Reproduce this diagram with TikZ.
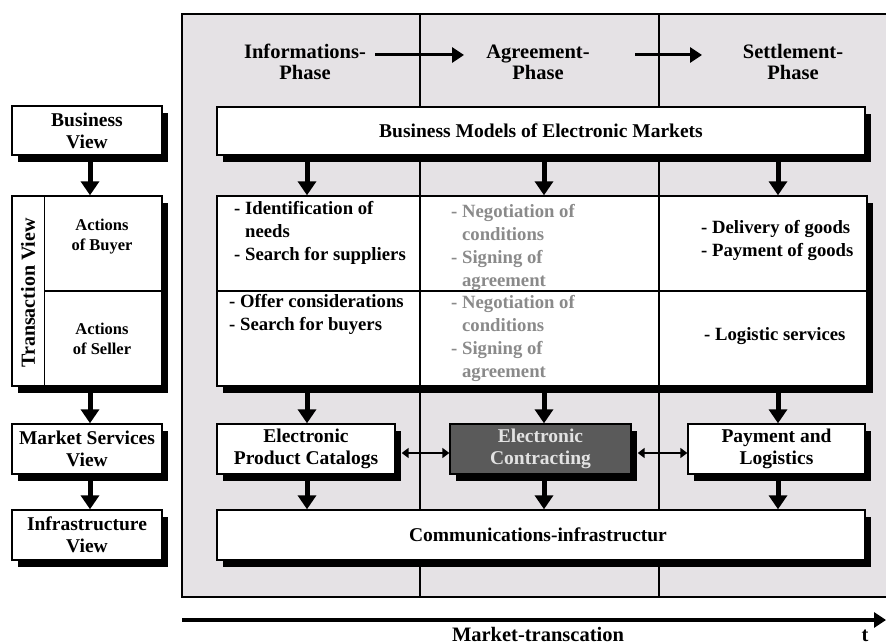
\documentclass[tikz,border=0pt]{standalone}
\usepackage{fontspec}
\setmainfont{Liberation Serif}
\usetikzlibrary{arrows.meta,shadows}

\definecolor{panelgray}{HTML}{E5E2E5}
\definecolor{softgray}{HTML}{8A8A8A}
\definecolor{darkbox}{HTML}{5A5A5A}
\definecolor{lighttext}{HTML}{E2E2E2}

\newcommand{\celllines}[1]{\begin{tabular}{@{}l@{}}#1\end{tabular}}

\begin{document}
\begin{tikzpicture}[x=1pt,y=-1pt,
  lbl/.style={font=\fontsize{19.5}{22}\selectfont\bfseries, align=center, inner sep=0pt},
  phase/.style={font=\fontsize{20.5}{21}\selectfont\bfseries, align=center, inner sep=0pt},
  small/.style={font=\fontsize{16.5}{20}\selectfont\bfseries, align=center, inner sep=0pt},
  celltext/.style={font=\fontsize{18.7}{23}\selectfont\bfseries, inner sep=0pt, anchor=west},
  boxbase/.style={draw=black, line width=1.4pt, inner sep=0pt, anchor=center,
    drop shadow={shadow xshift=6pt, shadow yshift=-7pt, opacity=1, fill=black}},
  whitebox/.style={boxbase, fill=white},
  bigarrow/.style={line width=5pt, -{Triangle[length=14pt,width=18pt]}},
  phasearrow/.style={line width=3pt, -{Triangle[length=12pt,width=15pt]}},
  linkarrow/.style={line width=2pt, {Triangle[length=7pt,width=10pt]}-{Triangle[length=7pt,width=10pt]}},
  colline/.style={line width=1.2pt}
]
\useasboundingbox (0,0) rectangle (886,644);

% shaded working area with its three phase columns
\fill[panelgray] (182,14) rectangle (890,597);
\draw[line width=1.2pt] (890,14) -- (182,14) -- (182,597) -- (890,597);
\coordinate (c1) at (420,14);
\coordinate (c2) at (659,14);
\draw[colline] (c1) -- (420,597);
\draw[colline] (c2) -- (659,597);

% phase headings
\node[phase] (ph1) at (305,62) {Informations-\\Phase};
\node[phase] (ph2) at (538,62) {Agreement-\\Phase};
\node[phase] (ph3) at (793,62) {Settlement-\\Phase};
\coordinate (a1s) at (375,55);
\coordinate (a1e) at (464,55);
\coordinate (a2s) at (635,55);
\coordinate (a2e) at (702,55);
\draw[phasearrow] (a1s) -- (a1e);
\draw[phasearrow] (a2s) -- (a2e);

% column centres for the vertical flow
\coordinate (xa) at (307,0);
\coordinate (xb) at (544,0);
\coordinate (xc) at (778,0);
\coordinate (xl) at (90,0);

% left-hand views
\node[whitebox, minimum width=150pt, minimum height=49pt] (bv) at (87,130.5) {};
\node[lbl] (bvt) at (bv.center) {Business\\View};
\node[whitebox, minimum width=150pt, minimum height=190pt] (tv) at (87,291) {};
\draw[line width=1.4pt] ([xshift=33pt]tv.north west) -- ([xshift=33pt]tv.south west);
\draw[line width=1.4pt] ([xshift=33pt]tv.west) -- (tv.east);
\node[lbl, font=\fontsize{20}{22}\selectfont\bfseries, rotate=90] (tvt) at (28,293) {Transaction View};
\node[small] (buy) at (102,237) {Actions\\of Buyer};
\node[small] (sel) at (102,339) {Actions\\of Seller};
\node[whitebox, minimum width=150pt, minimum height=50pt] (msv) at (87,449) {};
\node[lbl] (msvt) at (msv.center) {Market Services\\View};
\node[whitebox, minimum width=150pt, minimum height=50pt] (iv) at (87,535) {};
\node[lbl] (ivt) at (iv.center) {Infrastructure\\View};

\draw[bigarrow] (bv.south -| xl) -- (tv.north -| xl);
\draw[bigarrow] (tv.south -| xl) -- (msv.north -| xl);
\draw[bigarrow] (msv.south -| xl) -- (iv.north -| xl);

% business models
\node[whitebox, minimum width=648pt, minimum height=48pt] (bm) at (541,131) {};
\node[lbl] (bmt) at (bm.center) {Business Models of Electronic Markets};

% transaction grid
\node[whitebox, minimum width=650pt, minimum height=190pt] (grid) at (542,291) {};
\draw[line width=1.4pt] (grid.west) -- (grid.east);
\draw[line width=1.6pt] (grid.north -| c1) -- (grid.south -| c1);
\draw[line width=1.6pt] (grid.north -| c2) -- (grid.south -| c2);

\node[celltext] (g11) at (234,233) {\celllines{- Identification of\\\phantom{- }needs\\- Search for suppliers}};
\node[celltext] (g21) at (229,314) {\celllines{- Offer considerations\\- Search for buyers}};
\node[celltext, text=softgray] (g12) at (451,247) {\celllines{- Negotiation of\\\phantom{- }conditions\\- Signing of\\\phantom{- }agreement}};
\node[celltext, text=softgray] (g22) at (451,338) {\celllines{- Negotiation of\\\phantom{- }conditions\\- Signing of\\\phantom{- }agreement}};
\node[celltext] (g13) at (701,240) {\celllines{- Delivery of goods\\- Payment of goods}};
\node[celltext] (g23) at (704,336) {\celllines{- Logistic services}};

% services row
\node[whitebox, minimum width=178pt, minimum height=50pt] (epc) at (306,449) {};
\node[lbl] (epct) at (epc.center) {Electronic\\Product Catalogs};
\node[boxbase, fill=darkbox, minimum width=181pt, minimum height=50pt] (ec) at (540.5,449) {};
\node[lbl, text=lighttext] (ect) at (ec.center) {Electronic\\Contracting};
\node[whitebox, minimum width=177pt, minimum height=50pt] (pl) at (776.5,449) {};
\node[lbl] (plt) at (pl.center) {Payment and\\Logistics};

\draw[linkarrow] ([xshift=6pt,yshift=-4pt]epc.east) -- ([yshift=-4pt]ec.west);
\draw[linkarrow] ([xshift=6pt,yshift=-4pt]ec.east) -- ([yshift=-4pt]pl.west);

% infrastructure
\node[whitebox, minimum width=648pt, minimum height=50pt] (comm) at (541,535) {};
\node[lbl] (commt) at (538,535) {Communications-infrastructur};

% vertical flow through the three phases
\foreach \c in {xa,xb,xc} {
  \draw[bigarrow] (bm.south -| \c) -- (grid.north -| \c);
  \draw[bigarrow] (grid.south -| \c) -- (epc.north -| \c);
  \draw[bigarrow] (epc.south -| \c) -- (comm.north -| \c);
}

% time axis
\coordinate (t0) at (182,620);
\coordinate (t1) at (886,620);
\draw[line width=4pt, -{Triangle[length=12pt,width=15pt]}] (t0) -- (t1);
\node[phase, anchor=base] (mt) at (538,641) {Market-transcation};
\node[phase, anchor=base] (tt) at (865,641) {t};
\end{tikzpicture}
\end{document}
